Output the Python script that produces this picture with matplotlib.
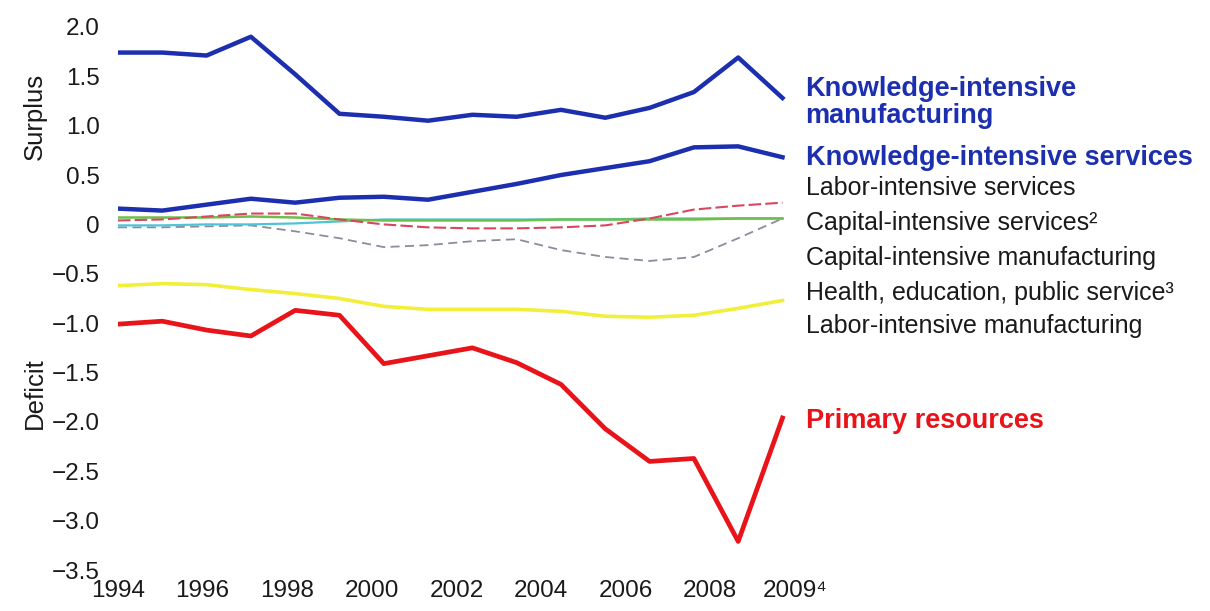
import matplotlib.pyplot as plt
import numpy as np

plt.rcParams['font.family'] = ['Liberation Sans', 'DejaVu Sans']

# Trade balance by sector, 1994-2009
years = np.arange(1994, 2010)
knowledge_manuf = [1.74, 1.74, 1.71, 1.90, 1.52, 1.12, 1.09, 1.05, 1.11, 1.09, 1.16, 1.08, 1.18, 1.34, 1.69, 1.28]
knowledge_serv = [0.16, 0.14, 0.20, 0.26, 0.22, 0.27, 0.28, 0.25, 0.33, 0.41, 0.50, 0.57, 0.64, 0.78, 0.79, 0.68]
labor_serv = [0.04, 0.05, 0.08, 0.11, 0.11, 0.05, 0.0, -0.03, -0.04, -0.04, -0.03, -0.01, 0.06, 0.15, 0.19, 0.22]
capital_serv = [0.07, 0.07, 0.07, 0.08, 0.07, 0.05, 0.04, 0.04, 0.04, 0.04, 0.05, 0.05, 0.05, 0.05, 0.06, 0.06]
capital_manuf = [-0.03, -0.03, -0.02, -0.01, -0.07, -0.14, -0.23, -0.21, -0.17, -0.15, -0.26, -0.33, -0.37, -0.33, -0.14, 0.06]
health_edu = [-0.01, -0.01, 0.0, 0.0, 0.01, 0.03, 0.05, 0.05, 0.05, 0.05, 0.05, 0.05, 0.06, 0.06, 0.06, 0.06]
labor_manuf = [-0.62, -0.60, -0.61, -0.66, -0.70, -0.75, -0.83, -0.86, -0.86, -0.86, -0.88, -0.93, -0.94, -0.92, -0.85, -0.77]
primary = [-1.01, -0.98, -1.07, -1.13, -0.87, -0.92, -1.41, -1.33, -1.25, -1.40, -1.62, -2.07, -2.40, -2.37, -3.21, -1.96]

tick_labels = ['1994', '1996', '1998', '2000', '2002', '2004', '2006', '2008', '2009\u2074']
y_ticks = [2.0, 1.5, 1.0, 0.5, 0, -0.5, -1.0, -1.5, -2.0, -2.5, -3.0, -3.5]

blue = '#1c2fae'
red = '#e8141a'
ink = '#1a1a1a'

fig = plt.figure(figsize=(12.1, 6.11), dpi=100)
ax = fig.add_axes([0.0975, 0.067, 0.5675, 0.889])

# thin sector lines first, heavy ones on top
ax.plot(years, capital_manuf, color='#8c8c9c', lw=1.3, ls=(0, (5, 3)))
ax.plot(years, health_edu, color='#4fc3d8', lw=1.6)
ax.plot(years, capital_serv, color='#6cc04a', lw=1.8)
ax.plot(years, labor_serv, color='#d8475f', lw=1.5, ls=(0, (6, 2)))
ax.plot(years, labor_manuf, color='#f2ef3a', lw=2.6)
ax.plot(years, knowledge_serv, color=blue, lw=3.2)
ax.plot(years, knowledge_manuf, color=blue, lw=3.2)
ax.plot(years, primary, color=red, lw=3.4)

ax.set_xlim(1994, 2009.5)
ax.set_ylim(-3.5, 2.0)
ax.set_xticks(1994 + np.arange(9) * 1.91)
ax.set_xticklabels(tick_labels)
ax.set_yticks(y_ticks)
ax.set_yticklabels([('0' if v == 0 else f'{v:.1f}'.replace('-', '\u2212')) for v in y_ticks])
ax.tick_params(length=0, labelsize=17.5, labelcolor=ink)
ax.tick_params(axis='y', pad=13)
ax.tick_params(axis='x', pad=7)
for s in ax.spines.values():
    s.set_visible(False)

fig.text(0.029, 0.81, 'Surplus', rotation=90, ha='center', va='center', fontsize=18.5, color=ink)
fig.text(0.029, 0.357, 'Deficit', rotation=90, ha='center', va='center', fontsize=18.5, color=ink)

# series labels at the right end of the lines
lx = 2009.52
ax.text(lx, 1.23, 'Knowledge-intensive\nmanufacturing', color=blue, fontsize=19.5, fontweight='bold',
        va='center', ha='left', linespacing=1.05, clip_on=False)
ax.text(lx, 0.675, 'Knowledge-intensive services', color=blue, fontsize=19.5, fontweight='bold',
        va='center', ha='left', clip_on=False)
plain = [('Labor-intensive services', 0.37),
         ('Capital-intensive services\u00b2', 0.015),
         ('Capital-intensive manufacturing', -0.34),
         ('Health, education, public service\u00b3', -0.695),
         ('Labor-intensive manufacturing', -1.03)]
for txt, yv in plain:
    ax.text(lx, yv, txt, color=ink, fontsize=18, va='center', ha='left', clip_on=False)
ax.text(lx, -1.995, 'Primary resources', color=red, fontsize=19.5, fontweight='bold',
        va='center', ha='left', clip_on=False)

fig.savefig('out.png', dpi=100, facecolor='white')
